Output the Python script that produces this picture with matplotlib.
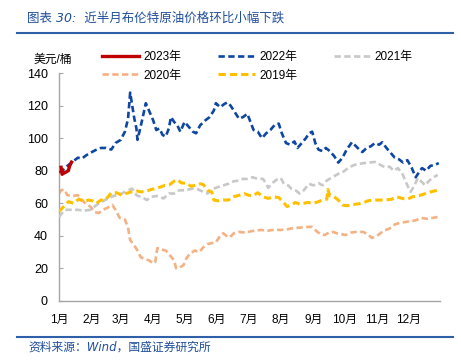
import numpy as np
import matplotlib
matplotlib.use('Agg')
import matplotlib.pyplot as plt
from matplotlib.lines import Line2D

plt.rcParams['font.family'] = ['Liberation Sans', 'Noto Sans CJK SC']

# Data (day of year, USD/bbl)

d2023 = [2, 3, 4, 5, 8, 9, 10, 11, 12]
p2023 = [82.1, 77.8, 78.7, 78.6, 79.7, 80.1, 82.7, 84.0, 85.3]

d2022 = [0, 4, 8, 14, 18, 22, 26, 30, 35, 40, 45, 50, 54, 59, 63, 66, 68, 70, 72, 74,
         75, 78, 83, 86, 90, 93, 96, 99, 102, 105, 107, 110, 113, 116, 120, 124, 128, 131,
         135, 140, 144, 148, 150, 154, 158, 161, 164, 167, 170, 172, 176, 180, 183, 186,
         190, 194, 198, 202, 206, 210, 213, 217, 221, 225, 228, 232, 236, 239, 242, 245,
         248, 252, 255, 259, 263, 267, 271, 275, 280, 284, 287, 290, 294, 298, 302, 306,
         309, 313, 317, 321, 325, 329, 333, 337, 341, 344, 347, 351, 355, 359, 363]
p2022 = [79, 80.5, 83, 86, 88, 87.5, 89.5, 91, 92.7, 94, 94, 93, 97, 99, 104, 112, 128, 120, 112, 106,
         99, 107, 121.5, 117, 111, 105, 106, 102, 101, 106, 113, 110, 108, 104, 110, 107, 104, 103,
         108, 111, 113, 117, 121.5, 119, 121, 122, 120, 117, 114, 112, 113, 115, 110, 105,
         104, 100, 103, 105, 108, 109, 103, 97, 96, 98, 94, 97, 100, 103, 104, 97,
         93, 92, 94, 92, 89, 85, 88, 93, 97.5, 95, 93, 91.5, 94, 95, 97, 96,
         97.5, 94, 91, 88, 87, 85, 86.5, 82, 76, 79, 81.6, 80, 83, 83.5, 84.7]

d2021 = [0, 3, 6, 12, 18, 24, 30, 34, 38, 44, 50, 55, 60, 66, 70, 74, 80, 84, 88, 94,
         100, 105, 110, 115, 120, 124, 128, 133, 138, 142, 146, 152, 157, 162, 167, 172,
         176, 180, 185, 190, 195, 198, 200, 204, 208, 212, 215, 219, 222, 226, 230, 234,
         239, 243, 248, 252, 256, 260, 264, 268, 272, 277, 282, 286, 291, 296, 302, 306,
         312, 316, 320, 324, 328, 331, 333, 336, 339, 343, 347, 350, 354, 358, 362]
p2021 = [51.5, 54, 56, 56, 56, 55.5, 56, 58, 60, 62, 64, 65, 66, 68, 69, 65, 63.5, 62, 64, 64.5,
         63, 66, 66, 68, 68, 68.5, 69, 68.5, 67, 66, 68.5, 70, 71, 72, 73.5, 74,
         75, 75, 76, 75, 75, 72, 69.5, 72.5, 74.5, 75.5, 72, 71, 69, 68, 66, 68,
         72, 71, 72.4, 71, 74, 75.5, 77, 78.5, 79.5, 82, 83.5, 84, 84.7, 85, 85.4, 84,
         82, 82.5, 80, 81.6, 78.5, 74, 71, 67, 70, 75.5, 73, 71, 74, 76, 77.4]

d2020 = [0, 2, 5, 8, 13, 18, 22, 26, 30, 34, 38, 42, 47, 51, 54, 58, 63, 66, 68, 72,
         75, 78, 82, 86, 90, 92, 94, 98, 102, 106, 110, 112, 115, 119, 122, 126, 130, 134,
         138, 142, 146, 150, 153, 157, 160, 163, 167, 172, 178, 185, 193, 200, 207, 212,
         218, 224, 230, 236, 242, 246, 250, 254, 258, 262, 266, 270, 274, 279, 285, 291,
         296, 299, 304, 310, 316, 321, 326, 331, 336, 341, 346, 352, 357, 362]
p2020 = [66, 68, 68.5, 65, 64.5, 65, 62, 59.5, 58, 54.6, 54, 56, 57.5, 59, 56, 51, 50, 45, 37.4, 34,
         31, 27, 25.5, 25, 23, 24, 32.5, 31.5, 31, 28, 25, 20, 20.5, 22, 26.5, 29.5, 31, 30,
         33, 35, 35.5, 36, 39, 41.6, 40, 39, 41.5, 42.4, 42, 43, 43.6, 43.2, 43.8, 43.6,
         44, 44.8, 45, 45.5, 45.5, 43, 41, 40.5, 42, 42.4, 41.5, 41, 40.5, 42, 42.5, 42.4,
         40.5, 38.7, 40, 43, 44.5, 47, 48, 48.5, 49, 49.5, 51, 50.5, 51, 51.6]

d2019 = [0, 3, 6, 9, 14, 19, 24, 28, 32, 36, 40, 44, 47, 50, 55, 60, 64, 69, 74, 79,
         84, 88, 92, 97, 101, 106, 110, 113, 117, 122, 126, 130, 135, 138, 142, 146, 148,
         152, 157, 162, 166, 170, 177, 181, 185, 190, 195, 200, 205, 210, 214, 218, 222,
         226, 230, 234, 238, 243, 248, 252, 256, 257, 259, 263, 267, 271, 275, 280, 284,
         290, 295, 300, 305, 311, 318, 323, 328, 333, 338, 343, 348, 353, 358, 362]
p2019 = [55, 57, 59, 61, 60, 62.6, 61, 62, 61.5, 60, 62, 62, 64, 66.5, 66.5, 65, 66, 67, 67.5, 67,
         67.5, 68.5, 69, 70, 71, 71.5, 73.6, 74.5, 72.5, 72.4, 70.5, 71, 72, 71.5, 68, 67, 62,
         61.5, 62, 62, 64, 64.5, 66, 65, 64.5, 66.5, 64, 63, 64, 63.5, 61, 58, 59,
         60.5, 59.5, 60, 60.5, 60, 61, 62, 62.5, 68.5, 64.5, 64, 62, 59, 58.5, 59, 59.5,
         60, 61.5, 62, 62, 62, 62.5, 64, 63, 62.5, 64, 64.5, 65.5, 66.5, 67.5, 68]

month_pos = [0, 31, 59, 90, 120, 151, 181, 212, 243, 273, 304, 334]
month_labels = ['1月', '2月', '3月', '4月', '5月', '6月', '7月', '8月', '9月', '10月', '11月', '12月']

# Plot

fig = plt.figure(figsize=(4.61, 3.60), dpi=100)
ax = fig.add_axes([0.128, 0.164, 0.826, 0.633])

dash = (2.4, 1.3)
h23, = ax.plot(d2023, p2023, color='#C00000', lw=2.4, label='2023年', zorder=6)
h22, = ax.plot(d2022, p2022, color='#0E46A3', lw=1.9, dashes=dash, label='2022年', zorder=5)
h21, = ax.plot(d2021, p2021, color='#C8C8C8', lw=1.9, dashes=dash, label='2021年', zorder=3)
h20, = ax.plot(d2020, p2020, color='#F4B183', lw=1.9, dashes=dash, label='2020年', zorder=2)
h19, = ax.plot(d2019, p2019, color='#FFC000', lw=2.2, dashes=dash, label='2019年', zorder=4)

ax.set_xlim(0, 364)
ax.set_ylim(0, 140)
ax.set_yticks(np.arange(0, 141, 20))
ax.set_xticks(month_pos)
ax.set_xticklabels(month_labels)
ax.tick_params(axis='y', direction='in', length=3, color='#A6A6A6', pad=8, labelsize=9)
ax.tick_params(axis='x', length=0, pad=9, labelsize=8.5)
for s in ['top', 'right']:
    ax.spines[s].set_visible(False)
for s in ['left', 'bottom']:
    ax.spines[s].set_color('#A6A6A6')
    ax.spines[s].set_linewidth(1.0)

fig.legend([h23, h20, h22, h19, h21], ['2023年', '2020年', '2022年', '2019年', '2021年'],
           ncol=3, loc='upper left', bbox_to_anchor=(0.222, 0.858), frameon=False,
           fontsize=8.5, handlelength=3.1, handletextpad=0.35, columnspacing=3.15,
           labelspacing=0.55, borderpad=0, borderaxespad=0)

fig.text(0.072, 0.834, '美元/桶', fontsize=8.5, va='center', ha='left')

# header / footer
fig.text(0.059, 0.951, '图表 30:  近半月布伦特原油价格环比小幅下跌', fontsize=9, color='#1F4E9A',
         style='italic', va='center', ha='left', family=['DejaVu Sans', 'Noto Sans CJK SC'])
fig.add_artist(Line2D([0.037, 0.983], [0.908, 0.908], color='#2E5FA8', lw=1.5))
fig.add_artist(Line2D([0.037, 0.983], [0.064, 0.064], color='#2E5FA8', lw=1.5))
fig.text(0.061, 0.036, '资料来源：Wind，国盛证券研究所', fontsize=8.5, color='#1F4E9A',
         style='italic', va='center', ha='left', family=['DejaVu Sans', 'Noto Sans CJK SC'])

plt.savefig('out.png', dpi=100)
plt.close(fig)
